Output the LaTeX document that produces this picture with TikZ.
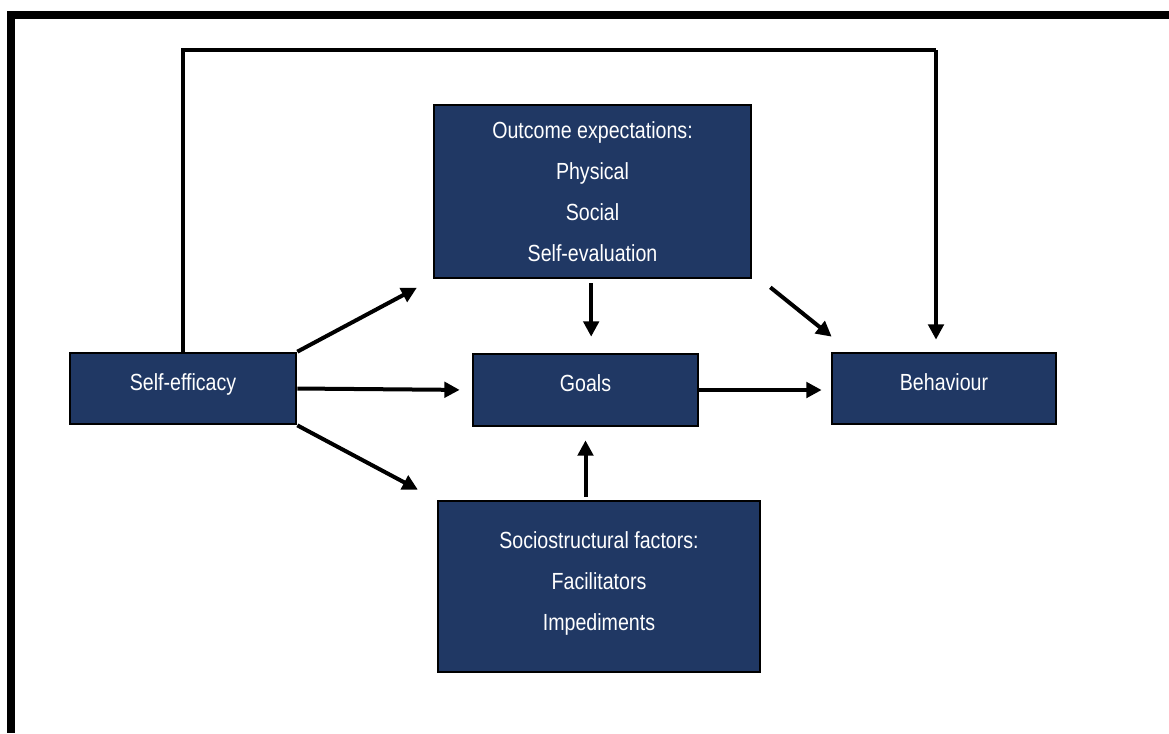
\documentclass[tikz,border=0pt]{standalone}
\usepackage{fontspec}
\setmainfont{Liberation Sans}[FakeStretch=0.84]
\usetikzlibrary{arrows.meta,calc}
\definecolor{navy}{HTML}{203864}
\tikzset{
  box/.style={draw=black, line width=2pt, fill=navy, text=white, inner sep=0pt,
    align=center, font={\fontsize{17.5pt}{30.75pt}\selectfont}},
  single/.style={text height=12.5pt, text depth=10pt},
  arr/.style={line width=3pt, -{Triangle[length=11.5pt,width=11.5pt]}},
  link/.style={line width=3pt}
}
\begin{document}
\begin{tikzpicture}[x=0.75pt,y=-0.75pt]
\useasboundingbox (0,0) rectangle (1169,733);
% frame along the top and left edges
\fill[black] (7,11) rectangle (1169,19);
\fill[black] (7,11) rectangle (15,733);

% boxes
\node[box, minimum width=317*0.75pt, minimum height=173*0.75pt] (outcome) at (592.5,191.5)
  {Outcome expectations:\\Physical\\Social\\Self-evaluation};
\node[box, single, minimum width=226*0.75pt, minimum height=71*0.75pt] (se) at (183,388.5) {Self-efficacy};
\node[box, single, minimum width=225*0.75pt, minimum height=72*0.75pt] (goals) at (585.5,390) {Goals};
\node[box, single, minimum width=224*0.75pt, minimum height=71*0.75pt] (beh) at (944,388.5) {Behaviour};
\node[box, text depth=7.5pt, minimum width=322*0.75pt, minimum height=171*0.75pt] (socio) at (599,586.5)
  {Sociostructural factors:\\Facilitators\\Impediments};

% arrows from self-efficacy
\draw[arr, shorten >=13.5pt] (se.north east) -- (outcome.south west);
\draw[arr, shorten >=9pt] (se.east) -- (goals.west);
\draw[arr, shorten >=16pt] (se.south east) -- (socio.north west);

% outcome expectations to goals and behaviour
\draw[arr, shorten <=3pt, shorten >=12pt] ([xshift=-1pt]outcome.south) -- ([xshift=-1pt]outcome.south |- goals.north);
\draw[arr] ([shift={(18,8)}]outcome.south east) -- ([shift={(1,-15)}]beh.north west);

% goals to behaviour
\draw[arr, shorten >=6.75pt] (goals.east) -- (beh.west |- goals.east);

% sociostructural factors to goals
\draw[arr, shorten <=2.25pt, shorten >=9.75pt] (goals.south |- socio.north) -- (goals.south);

% direct path from self-efficacy to behaviour
\coordinate (loopL) at (183,50);
\coordinate (loopR) at (936,50);
\draw[link] (se.north) -- (loopL) -- (loopR);
\draw[arr, shorten >=9pt] (loopR) -- (loopR |- beh.north);
\end{tikzpicture}
\end{document}
